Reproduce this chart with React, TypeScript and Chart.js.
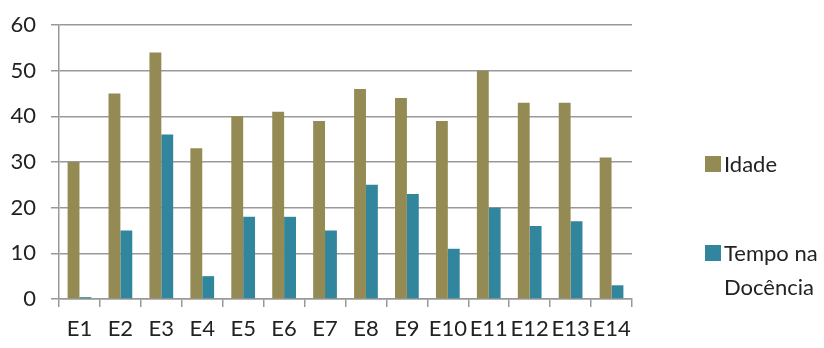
import React, { useEffect, useRef } from "react";
import { Chart, registerables } from "chart.js";

Chart.register(...registerables);

const categories = ["E1", "E2", "E3", "E4", "E5", "E6", "E7", "E8", "E9", "E10", "E11", "E12", "E13", "E14"];
const idade = [30, 45, 54, 33, 40, 41, 39, 46, 44, 39, 50, 43, 43, 31];
const tempoDocencia = [0.4, 15, 36, 5, 18, 18, 15, 25, 23, 11, 20, 16, 17, 3];
const seriesNames = ["Idade", ["Tempo na", "Docência"]];
const yTicks = [0, 10, 20, 30, 40, 50, 60];

const OLIVE = "#948a54";
const TEAL = "#31859c";
const FONT = "Lato, 'Open Sans', sans-serif";

const legendPlugin = {
  id: "customLegend",
  afterDraw(chart: any) {
    const ctx = chart.ctx;
    const area = chart.chartArea;
    const x = area.right + 73;
    const items = [
      { color: OLIVE, lines: seriesNames[0] as any, cy: 164 },
      { color: TEAL, lines: seriesNames[1] as any, cy: 253 },
    ];
    ctx.save();
    ctx.font = `22px ${FONT}`;
    ctx.textBaseline = "middle";
    ctx.textAlign = "left";
    items.forEach((it) => {
      const lines = Array.isArray(it.lines) ? it.lines : [it.lines];
      ctx.fillStyle = it.color;
      ctx.fillRect(x, it.cy - 8, 16, 16);
      ctx.fillStyle = "#222";
      lines.forEach((ln: string, i: number) => ctx.fillText(ln, x + 19, it.cy + 1 + 34 * i));
    });
    ctx.restore();
  },
};

export default function App() {
  const ref = useRef<HTMLCanvasElement>(null);
  useEffect(() => {
    if (!ref.current) return;
    const chart = new Chart(ref.current, {
      type: "bar",
      data: {
        labels: categories,
        datasets: [
          { label: "Idade", data: idade, backgroundColor: OLIVE, barPercentage: 1, categoryPercentage: 0.58 },
          { label: "Tempo na Docência", data: tempoDocencia, backgroundColor: TEAL, barPercentage: 1, categoryPercentage: 0.58 },
        ],
      },
      plugins: [legendPlugin],
      options: {
        animation: false,
        responsive: false,
        layout: { padding: { top: 25, right: 192, left: 0, bottom: 0 } },
        plugins: { legend: { display: false }, tooltip: { enabled: false } },
        scales: {
          x: {
            grid: { display: true, drawOnChartArea: false, offset: true, color: "#999", tickLength: 8, lineWidth: 1.5 },
            border: { display: true, color: "#999", width: 1.5 },
            ticks: { color: "#222", font: { family: FONT, size: 22 }, padding: 9, maxRotation: 0, autoSkip: false },
            afterFit: (s: any) => { s.height = 49; s.paddingLeft = 0; s.paddingRight = 0; },
          },
          y: {
            min: 0,
            max: 60,
            afterBuildTicks: (s: any) => { s.ticks = yTicks.map((v) => ({ value: v })); },
            grid: { color: "#999", lineWidth: 1.5, tickLength: 8 },
            border: { display: true, color: "#999", width: 1.5 },
            ticks: { color: "#222", font: { family: FONT, size: 22 }, padding: 15 },
            afterFit: (s: any) => { s.width = 59; s.paddingTop = 0; s.paddingBottom = 0; },
          },
        },
      },
    });
    return () => chart.destroy();
  }, []);
  return (
    <div style={{ position: "fixed", left: 0, top: 0, width: 824, height: 348, background: "#fff" }}>
      <canvas ref={ref} width={824} height={348} />
    </div>
  );
}
